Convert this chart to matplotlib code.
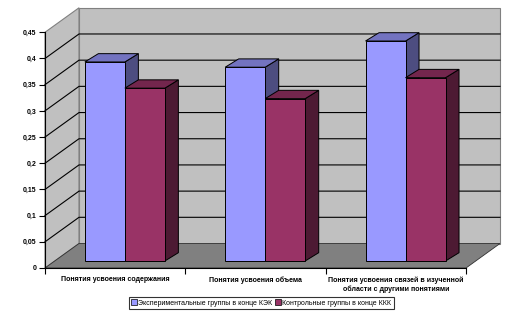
import numpy as np
import matplotlib.pyplot as plt
from matplotlib.patches import Polygon
from matplotlib.lines import Line2D

plt.rcParams["font.family"] = ["Liberation Sans", "DejaVu Sans"]

################################################################
##### chart data

CATEGORIES = [
    "Понятия усвоения содержания",
    "Понятия усвоения объема",
    "Понятия усвоения связей в изученной\nобласти с другими понятиями",
]
SERIES_NAMES = [
    "Экспериментальные группы в конце КЭК",
    "Контрольные группы в конце ККК",
]
EXPERIMENTAL = [0.38, 0.37, 0.42]
CONTROL = [0.33, 0.31, 0.35]
Y_TICKS = [0, 0.05, 0.1, 0.15, 0.2, 0.25, 0.3, 0.35, 0.4, 0.45]
Y_LABELS = ["0", "0,05", "0,1", "0,15", "0,2", "0,25", "0,3", "0,35", "0,4", "0,45"]

################################################################
##### layout / style

W, H = 524, 314
X_PX = 140.33          # pixels per category
Y_PX = 523.8           # pixels per value unit
X0_PX, Y0_PX = 45, 46  # front origin, pixels from bottom-left

YMAX = 0.45
DX, DY = 34 / X_PX, 24.5 / Y_PX          # wall depth
OFF_X, OFF_Y = 9.7 / X_PX, 7 / Y_PX      # plane of the bars
BDX, BDY = 13.5 / X_PX, 8.3 / Y_PX       # bar depth
BAR_W = 40 / X_PX

WALL = "#c0c0c0"
FLOOR = "#808080"
FACES = [
    ("#9999ff", "#7373c0", "#4d4d80"),
    ("#993366", "#73264d", "#4d1a33"),
]

fig = plt.figure(figsize=(W / 100, H / 100), dpi=100)
ax = fig.add_axes([0, 0, 1, 1])
ax.set_xlim(-X0_PX / X_PX, (W - X0_PX) / X_PX)
ax.set_ylim(-Y0_PX / Y_PX, (H - Y0_PX) / Y_PX)

ncat = len(CATEGORIES)

# walls and floor
left_wall = Polygon([(0, 0), (0, YMAX), (DX, YMAX + DY), (DX, DY)],
                    closed=True, fc=WALL, ec=FLOOR, lw=0.8, zorder=1)
back_wall = Polygon([(DX, DY), (DX, YMAX + DY), (ncat + DX, YMAX + DY), (ncat + DX, DY)],
                    closed=True, fc=WALL, ec=FLOOR, lw=0.8, zorder=1)
floor = Polygon([(0, 0), (ncat, 0), (ncat + DX, DY), (DX, DY)],
                closed=True, fc=FLOOR, ec="#303030", lw=0.6, zorder=1.5)
for p in (left_wall, back_wall, floor):
    ax.add_patch(p)

# gridlines on the left and back walls
for v in Y_TICKS[1:-1]:
    ax.plot([0, DX, ncat + DX], [v, v + DY, v + DY], color="black", lw=0.8, zorder=2)

# bars: each category drawn left to right so the nearer faces cover the rest
for i in range(ncat):
    for s, vals in enumerate([EXPERIMENTAL, CONTROL]):
        front, top, side = FACES[s]
        xl = i + 0.5 + OFF_X - BAR_W + s * BAR_W
        xr = xl + BAR_W
        b = OFF_Y
        t = OFF_Y + vals[i]
        z = 3 + i * 2 + s
        ax.add_patch(Polygon([(xr, b), (xr, t), (xr + BDX, t + BDY), (xr + BDX, b + BDY)],
                             closed=True, fc=side, ec="black", lw=0.7, zorder=z))
        ax.add_patch(Polygon([(xl, t), (xr, t), (xr + BDX, t + BDY), (xl + BDX, t + BDY)],
                             closed=True, fc=top, ec="black", lw=0.7, zorder=z))
        ax.bar(xl, vals[i], width=BAR_W, bottom=b, align="edge",
               color=front, edgecolor="black", lw=0.7, zorder=z)

# axes: value axis on the front left edge, category axis on the floor front edge
for sp in ("top", "right"):
    ax.spines[sp].set_visible(False)
ax.spines["left"].set_position(("data", 0))
ax.spines["left"].set_bounds(0, YMAX)
ax.spines["bottom"].set_position(("data", 0))
ax.spines["bottom"].set_bounds(0, ncat)
for sp in ("left", "bottom"):
    ax.spines[sp].set_linewidth(0.8)
    ax.spines[sp].set_zorder(20)

ax.set_yticks(Y_TICKS, labels=Y_LABELS)
ax.tick_params(axis="y", direction="out", length=4, width=0.8, pad=2,
               labelsize=5, labelcolor="black")
for lab in ax.get_yticklabels():
    lab.set_fontweight("bold")

ax.set_xticks(np.arange(ncat + 1), labels=[""] * (ncat + 1))
ax.set_xticks(np.arange(ncat) + 0.5, labels=CATEGORIES, minor=True)
ax.tick_params(axis="x", which="major", direction="out", length=4, width=0.8)
ax.tick_params(axis="x", which="minor", length=0, pad=6, labelsize=5)
for lab in ax.get_xticklabels(minor=True):
    lab.set_fontweight("bold")
    lab.set_linespacing(1.3)

# legend
handles = [Line2D([], [], marker="s", ls="", markersize=4, markerfacecolor=f[0],
                  markeredgecolor="black", markeredgewidth=0.5) for f in FACES]
leg = fig.legend(handles, SERIES_NAMES, loc="center", bbox_to_anchor=(0.499, 0.034),
                 ncol=2, fontsize=5, frameon=True, fancybox=False, borderpad=0.35,
                 handlelength=0.6, handletextpad=0.3, columnspacing=0.6,
                 borderaxespad=0)
leg.get_frame().set_edgecolor("black")
leg.get_frame().set_linewidth(0.8)

fig.savefig("out.png", dpi=100)
